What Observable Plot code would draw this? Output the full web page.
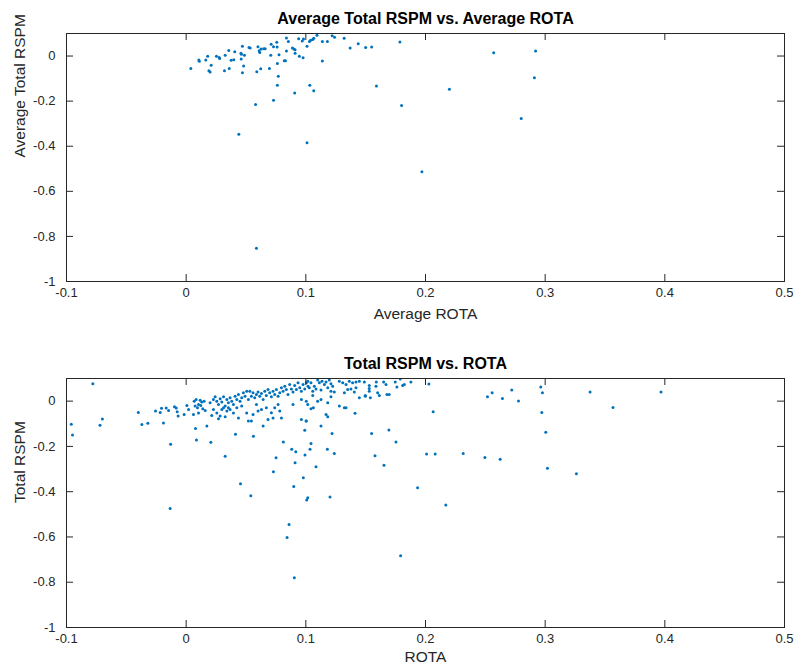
<!DOCTYPE html>
<html><head><meta charset="utf-8">
<script src="https://cdn.jsdelivr.net/npm/d3@7"></script>
<script src="https://cdn.jsdelivr.net/npm/@observablehq/plot@0.6"></script>
<style>
html,body{margin:0;padding:0;background:#fff;}
#chart{width:794px;height:666px;}
#chart svg{display:block;}
</style></head><body><div id="chart"></div>
<script>
const xTicks = [-0.1, 0, 0.1, 0.2, 0.3, 0.4, 0.5];
const yTicks = [-1, -0.8, -0.6, -0.4, -0.2, 0];
const titles = ["Average Total RSPM vs. Average ROTA", "Total RSPM vs. ROTA"];
const xLabels = ["Average ROTA", "ROTA"];
const yLabels = ["Average Total RSPM", "Total RSPM"];

// [Average ROTA, Average Total RSPM]
const topPoints = [
[0.0039,-0.055],[0.0106,-0.018],[0.0110,-0.023],[0.0164,-0.018],[0.0180,-0.001],[0.0209,-0.041],
[0.0190,-0.065],[0.0200,-0.071],[0.0253,-0.001],[0.0276,-0.006],[0.0280,-0.011],[0.0326,0.003],
[0.0320,-0.065],[0.0356,0.025],[0.0360,-0.055],[0.0376,-0.019],[0.0398,-0.016],[0.0406,0.019],
[0.0458,0.012],[0.0462,0.008],[0.0470,0.043],[0.0487,0.004],[0.0460,-0.013],[0.0480,-0.044],
[0.0470,-0.074],[0.0525,0.038],[0.0535,0.036],[0.0590,-0.070],[0.0600,0.041],[0.0610,0.023],
[0.0615,0.016],[0.0626,0.031],[0.0623,-0.056],[0.0648,0.032],[0.0660,0.032],[0.0696,-0.055],
[0.0707,0.004],[0.0710,0.052],[0.0730,0.041],[0.0757,0.061],[0.0760,0.040],[0.0776,0.006],
[0.0762,-0.033],[0.0770,-0.090],[0.0762,-0.129],[0.0730,-0.196],[0.0580,-0.215],[0.0820,-0.021],
[0.0830,-0.021],[0.0838,0.080],[0.0854,0.064],[0.0838,0.022],[0.0888,0.036],[0.0900,0.031],
[0.0910,0.028],[0.0910,0.012],[0.0907,-0.164],[0.0940,0.077],[0.0946,-0.001],[0.0977,-0.008],
[0.0970,0.067],[0.0980,0.076],[0.1010,0.044],[0.1030,0.065],[0.1040,0.070],[0.1033,-0.130],
[0.1066,-0.154],[0.1058,0.073],[0.1066,0.079],[0.1093,0.092],[0.1138,0.064],[0.1138,-0.022],
[0.1180,0.065],[0.1220,0.090],[0.1240,0.083],[0.1320,0.079],[0.1370,0.036],[0.1438,0.055],
[0.1500,0.038],[0.1550,0.040],[0.1590,-0.133],[0.1786,0.062],[0.1800,-0.219],[0.2570,0.015],
[0.2920,0.022],[0.2910,-0.096],[0.2200,-0.147],[0.2800,-0.277],[0.0440,-0.347],[0.1010,-0.385],
[0.1970,-0.513],[0.0587,-0.853]
];

// [ROTA, Total RSPM]
const bottomPoints = [
[-0.096,-0.102],[-0.095,-0.150],[-0.078,0.077],[-0.072,-0.106],[-0.070,-0.079],[-0.040,-0.050],
[-0.037,-0.103],[-0.032,-0.098],[-0.0256,-0.044],[-0.0217,-0.050],[-0.0206,-0.031],[-0.019,-0.097],
[-0.0167,-0.030],[-0.0147,-0.041],[-0.013,-0.191],[-0.0098,-0.025],[-0.0083,-0.030],[-0.0075,-0.047],
[-0.0067,-0.066],[0.0086,-0.172],[0.0206,-0.182],[0.0326,-0.243],[0.0412,-0.146],[0.0562,-0.155],
[0.0751,-0.250],[0.0729,-0.312],[0.0812,-0.180],
[0.0006,-0.019],[-0.0017,-0.059],[0.002,-0.037],[0.0067,0.000],[0.0083,0.007],[0.0103,-0.015],
[0.0117,0.004],[0.013,-0.004],[0.015,0.000],[0.0075,-0.022],[0.0095,-0.029],[0.0122,-0.019],
[0.0139,-0.034],[0.0159,-0.041],[0.0061,-0.059],[0.0103,-0.052],[0.0078,-0.121],[0.0173,-0.110],
[0.020,-0.007],[0.0228,0.007],[0.0242,0.019],[0.0256,0.000],[0.027,-0.015],[0.0284,0.010],
[0.0298,-0.004],[0.0312,0.019],[0.0326,-0.022],[0.034,0.007],[0.0353,-0.007],[0.0367,0.015],
[0.0381,0.000],[0.0395,-0.015],[0.0409,0.022],[0.0423,0.007],[0.0437,0.029],[0.045,0.000],
[0.0464,0.015],[0.0478,0.037],[0.0492,0.022],[0.0506,0.044],[0.052,0.007],[0.0228,-0.037],
[0.0256,-0.052],[0.0284,-0.066],[0.0312,-0.029],[0.034,-0.044],[0.0367,-0.037],[0.0395,-0.052],
[0.027,-0.078],[0.0326,-0.069],[0.0437,-0.074],[0.0506,-0.052],[0.052,-0.088],[0.0214,-0.063],
[0.0298,-0.037],[0.0353,-0.029],[0.0423,-0.029],[0.0464,-0.022],
[0.0532,0.044],[0.0559,0.037],[0.0587,0.029],[0.0545,0.022],[0.0573,0.015],[0.0601,0.040],
[0.0615,0.022],[0.0629,0.034],[0.0643,0.007],[0.0657,0.044],[0.067,0.025],[0.0684,0.051],
[0.0698,0.037],[0.0712,0.019],[0.0726,0.044],[0.074,0.029],[0.0754,0.051],[0.0768,0.022],
[0.0782,0.037],[0.0796,0.059],[0.081,0.044],[0.0824,0.066],[0.0837,0.051],[0.0851,0.029],
[0.0865,0.074],[0.0879,0.054],[0.0893,0.040],[0.0907,0.069],[0.0921,0.051],[0.0935,0.081],
[0.0949,0.059],[0.0963,0.044],[0.0977,0.074],[0.0991,0.054],[0.1004,0.081],[0.1018,0.066],
[0.0963,0.007],[0.1004,0.000],[0.0587,-0.015],[0.0629,-0.037],[0.067,-0.029],[0.0712,-0.051],
[0.074,-0.029],[0.0768,-0.015],[0.0782,-0.044],[0.0559,-0.059],[0.0545,-0.088],[0.0684,-0.081],
[0.0726,-0.074],[0.0796,-0.074],[0.0893,-0.015],[0.0963,-0.081],[0.1004,-0.088],[0.0643,-0.110],
[0.0601,-0.044],[0.0991,-0.129],
[0.1016,0.088],[0.1043,0.081],[0.1071,0.066],[0.1099,0.093],[0.1113,0.081],[0.1135,0.088],
[0.1155,0.074],[0.1169,0.085],[0.1196,0.093],[0.121,0.077],[0.1224,0.066],[0.1029,0.059],
[0.1058,0.044],[0.1085,0.054],[0.1127,0.049],[0.1183,0.059],[0.121,0.044],[0.1238,0.040],
[0.128,0.088],[0.1308,0.081],[0.1336,0.074],[0.1363,0.088],[0.1391,0.081],[0.1419,0.085],
[0.1447,0.088],[0.1489,0.085],[0.135,0.051],[0.1377,0.054],[0.1419,0.059],[0.1322,0.037],
[0.1405,0.040],[0.1058,0.025],[0.1099,0.000],[0.1127,0.007],[0.1183,-0.007],[0.121,0.019],
[0.1447,0.015],[0.1497,0.025],[0.1016,-0.015],[0.1043,-0.034],[0.1063,-0.029],[0.128,-0.022],
[0.1322,-0.029],[0.1336,-0.029],[0.1169,-0.059],[0.1183,-0.069],[0.1002,-0.088],[0.1127,-0.110],
[0.1411,-0.054],
[0.153,0.069],[0.153,0.056],[0.153,0.044],[0.1497,0.022],[0.1539,0.015],[0.1589,0.084],
[0.1586,0.066],[0.160,0.037],[0.1614,0.025],[0.165,0.084],[0.167,0.074],[0.1678,0.029],
[0.1697,0.029],[0.1747,0.084],[0.1761,0.063],[0.1789,0.098],[0.1809,0.069],[0.1823,0.074],
[0.1878,0.084],
[0.1219,-0.143],[0.155,-0.143],[0.1694,-0.128],[0.1753,-0.180],[0.0882,-0.212],[0.0916,-0.224],
[0.1035,-0.213],[0.1043,-0.187],[0.0993,-0.238],[0.118,-0.213],[0.1238,-0.231],[0.091,-0.272],
[0.1085,-0.290],[0.0979,-0.339],[0.1578,-0.241],[0.1653,-0.283],[0.2009,-0.233],[0.2081,-0.233],
[0.2315,-0.231],[0.2496,-0.249],[0.2624,-0.257],[0.2064,-0.047],[0.2028,0.076],[0.2518,0.019],
[0.2557,0.037],[0.2643,0.012],[0.2721,0.049],[0.2777,0.001],
[0.2963,0.063],[0.2977,0.037],[0.3375,0.040],[0.3968,0.040],[0.3567,-0.028],[0.2972,-0.050],
[0.3005,-0.138],[0.3019,-0.297],[0.3261,-0.321],
[-0.0134,-0.474],[0.0454,-0.365],[0.054,-0.418],[0.0899,-0.377],[0.1007,-0.437],[0.1016,-0.427],
[0.1202,-0.424],[0.086,-0.545],[0.0843,-0.602],[0.0904,-0.780],[0.1934,-0.383],[0.217,-0.459],
[0.1792,-0.683]
];

const ink = "#262626";
const font = "'Liberation Sans', Arial, Helvetica, sans-serif";

function panel(points, i, marginTop, marginBottom, labelDy) {
  const W = 794, H = 333, mL = 66, mR = 10;
  const ph = H - marginTop - marginBottom, pw = W - mL - mR;
  return Plot.plot({
    width: W, height: H, marginLeft: mL, marginRight: mR, marginTop, marginBottom,
    style: {fontFamily: font, background: "white", overflow: "visible"},
    x: {domain: [-0.1, 0.5]},
    y: {domain: [-1, 0.1]},
    marks: [
      Plot.dot(points, {x: d => d[0], y: d => d[1], r: 1.5, fill: "#0072BD", clip: true}),
      Plot.frame({stroke: ink, strokeWidth: 1}),
      Plot.tickX(xTicks, {x: d => d, insetTop: ph - 7, stroke: ink}),
      Plot.tickX(xTicks, {x: d => d, insetBottom: ph - 7, stroke: ink}),
      Plot.tickY(yTicks, {y: d => d, insetRight: pw - 7, stroke: ink}),
      Plot.tickY(yTicks, {y: d => d, insetLeft: pw - 7, stroke: ink}),
      Plot.axisX({ticks: xTicks, anchor: "bottom", tickSize: 0, tickPadding: 6, fontSize: 13, color: ink, label: null, tickFormat: d => String(d)}),
      Plot.axisY({ticks: yTicks, anchor: "left", tickSize: 0, tickPadding: 11, fontSize: 13, color: ink, label: null, tickFormat: d => String(d)}),
      Plot.text([titles[i]], {text: d => d, frameAnchor: "top", lineAnchor: "middle", dy: -15, fontSize: 16, fontWeight: "bold", fill: "black"}),
      Plot.text([xLabels[i]], {text: d => d, frameAnchor: "bottom", lineAnchor: "middle", dy: labelDy, fontSize: 15.5, fill: ink}),
      Plot.text([yLabels[i]], {text: d => d, frameAnchor: "left", lineAnchor: "middle", rotate: -90, dx: -46, fontSize: 15.5, fill: ink})
    ]
  });
}

const el = document.getElementById("chart");
el.appendChild(panel(topPoints, 0, 33, 52, 33));
el.appendChild(panel(bottomPoints, 1, 45, 39, 30));
</script>
</body></html>
